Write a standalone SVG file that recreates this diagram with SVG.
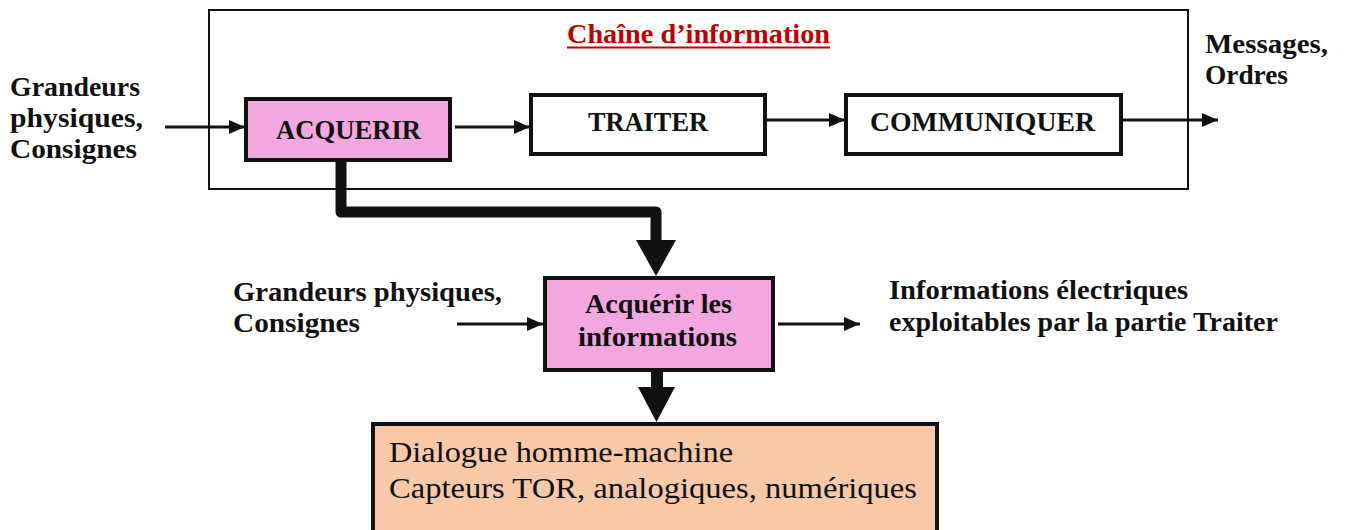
<svg xmlns="http://www.w3.org/2000/svg" width="1346" height="530" viewBox="0 0 1346 530">
<style>
.t{font-family:"Liberation Serif","Times New Roman",serif;font-size:27px;font-weight:bold;fill:#111}
.r{font-family:"Liberation Serif","Times New Roman",serif;font-size:29px;fill:#111}
.box{stroke:#111;stroke-width:4}
.thin{stroke:#111;stroke-width:3;fill:none}
</style>
<defs>
<marker id="ah" markerUnits="userSpaceOnUse" markerWidth="17" markerHeight="16" refX="16" refY="8" orient="auto">
<path d="M0,1 L16,8 L0,15 Z" fill="#111"/>
</marker>
</defs>
<rect width="1346" height="530" fill="#fff"/>
<g id="chaine">
<rect x="209" y="10" width="979" height="179" fill="none" stroke="#111" stroke-width="2"/>
<text x="567" y="43" class="t" style="fill:#c00000" textLength="263" lengthAdjust="spacingAndGlyphs">Chaîne d’information</text>
<line x1="567" y1="47.5" x2="830" y2="47.5" stroke="#c00000" stroke-width="2.2"/>
</g>
<g id="in-top">
<text class="t" x="10" y="96" textLength="130" lengthAdjust="spacingAndGlyphs">Grandeurs</text>
<text class="t" x="10" y="127" textLength="133" lengthAdjust="spacingAndGlyphs">physiques,</text>
<text class="t" x="10" y="158" textLength="127" lengthAdjust="spacingAndGlyphs">Consignes</text>
</g>
<g id="acquerir">
<rect class="box" x="246" y="99" width="204" height="61" fill="#f2a8de"/>
<text class="t" x="276" y="139" textLength="145" lengthAdjust="spacingAndGlyphs">ACQUERIR</text>
</g>
<g id="traiter">
<rect class="box" x="531" y="95" width="234" height="59" fill="#fff"/>
<text class="t" x="588" y="131" textLength="120" lengthAdjust="spacingAndGlyphs">TRAITER</text>
</g>
<g id="communiquer">
<rect class="box" x="846" y="95" width="275" height="59" fill="#fff"/>
<text class="t" x="870" y="131" textLength="225" lengthAdjust="spacingAndGlyphs">COMMUNIQUER</text>
</g>
<g id="out-top">
<text class="t" x="1205" y="53" textLength="123" lengthAdjust="spacingAndGlyphs">Messages,</text>
<text class="t" x="1205" y="84" textLength="83" lengthAdjust="spacingAndGlyphs">Ordres</text>
</g>
<g id="acquerir-info">
<rect class="box" x="545" y="278" width="228" height="92" fill="#f2a8de"/>
<text class="t" x="585" y="313" textLength="147" lengthAdjust="spacingAndGlyphs">Acquérir les</text>
<text class="t" x="578" y="346" textLength="159" lengthAdjust="spacingAndGlyphs">informations</text>
</g>
<g id="in-mid">
<text class="t" x="233" y="301" textLength="269" lengthAdjust="spacingAndGlyphs">Grandeurs physiques,</text>
<text class="t" x="233" y="332" textLength="127" lengthAdjust="spacingAndGlyphs">Consignes</text>
</g>
<g id="out-mid">
<text class="t" x="889" y="299" textLength="299" lengthAdjust="spacingAndGlyphs">Informations électriques</text>
<text class="t" x="889" y="331" textLength="389" lengthAdjust="spacingAndGlyphs">exploitables par la partie Traiter</text>
</g>
<g id="moyens">
<rect class="box" x="373" y="424" width="564" height="130" fill="#f7c9a9"/>
<text class="r" x="389" y="462" textLength="344" lengthAdjust="spacingAndGlyphs">Dialogue homme-machine</text>
<text class="r" x="389" y="498" textLength="528" lengthAdjust="spacingAndGlyphs">Capteurs TOR, analogiques, numériques</text>
</g>
<g id="connectors">
<line class="thin" x1="165" y1="127" x2="245" y2="127" marker-end="url(#ah)"/>
<line class="thin" x1="455" y1="127" x2="530" y2="127" marker-end="url(#ah)"/>
<line class="thin" x1="766" y1="120" x2="845" y2="120" marker-end="url(#ah)"/>
<line class="thin" x1="1122" y1="120" x2="1218" y2="120" marker-end="url(#ah)"/>
<line class="thin" x1="457" y1="324" x2="543" y2="324" marker-end="url(#ah)"/>
<line class="thin" x1="778" y1="324" x2="860" y2="324" marker-end="url(#ah)"/>
<path d="M341 162 V212 H656 V242" fill="none" stroke="#111" stroke-width="11" stroke-linejoin="round"/>
<polygon points="636,240 676,240 656,276" fill="#111"/>
<path d="M657 372 V389" fill="none" stroke="#111" stroke-width="12"/>
<polygon points="638,387 675,387 656.5,422" fill="#111"/>
</g>
</svg>
